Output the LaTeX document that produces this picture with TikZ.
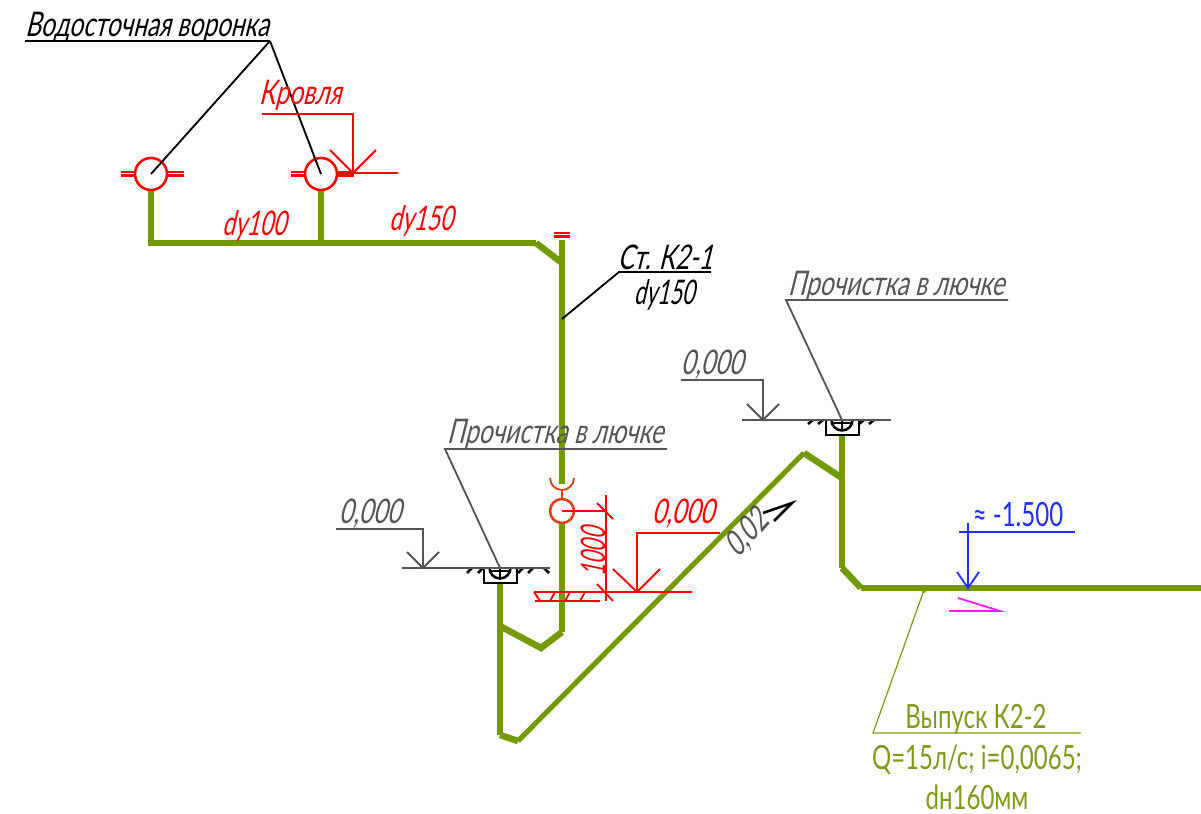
\documentclass[tikz,border=0pt]{standalone}
\usepackage{fontspec}
\setmainfont{Liberation Sans}
\newfontfamily\gostslant[FakeSlant=0.25,FakeStretch=0.72]{Lato}
\newfontfamily\gostplain[FakeStretch=0.72]{Lato}
\usepackage{tikz}
\definecolor{pipegreen}{HTML}{759900}
\definecolor{labelolive}{HTML}{7F9A1A}
\definecolor{leadergray}{HTML}{555555}
\definecolor{hubred}{HTML}{E04010}
\definecolor{levelblue}{HTML}{2030FF}
\definecolor{slopepink}{HTML}{FF20F0}
\tikzset{
  pipe/.style={draw=pipegreen,line width=2.9pt,line join=miter},
  pipekink/.style={draw=pipegreen,line width=3.7pt,line join=miter},
  thin line/.style={line width=1.05pt},
  heavy line/.style={line width=1.45pt},
  label/.style={font=\gostslant\fontsize{19.3}{21}\selectfont,inner sep=0pt,anchor=center},
  plainlabel/.style={font=\gostplain\fontsize{19}{21}\selectfont,inner sep=0pt,anchor=center}
}

\begin{document}
\begin{tikzpicture}[x=0.02cm,y=-0.02cm]
\useasboundingbox (0,0) rectangle (1201,814);

% Define pipe vertices
\coordinate (f1) at (151,174);
\coordinate (f2) at (321,174);
\coordinate (j1) at (151,243);
\coordinate (j2) at (321,243);
\coordinate (k1) at (536,243);
\coordinate (k2) at (562,263);
\coordinate (stack) at (562,319);
\coordinate (c1) at (500,568);
\coordinate (c2) at (842,420);
\coordinate (low) at (500,735);
\coordinate (up) at (804,453);
\coordinate (out) at (842,568);
\coordinate (outb) at (861,588);
\coordinate (outend) at (1201,588);

% Draw pipes
\draw[pipe] (151,190) -- (j1) -- (k1);
\draw[pipekink] (k1) -- (k2);
\draw[pipe] (321,190) -- (j2);
\draw[pipe] (562,240) -- (562,484);
\draw[pipe] (562,522) -- (562,632);
\draw[pipekink] (562,632) -- (541,648) -- (500,626);
\draw[pipe] (500,583) -- (low);
\draw[pipekink] (low) -- (518,741);
\draw[pipe] (518,741) -- (up);
\draw[pipekink] (up) -- (842,478);
\draw[pipe] (842,435) -- (out);
\draw[pipekink] (out) -- (outb);
\draw[pipe] (outb) -- (outend);

% Funnels
\foreach \f in {f1,f2} {
  \draw[red,heavy line] (\f) circle (16);
}
\foreach \yy in {172,175.5} {
  \draw[red,heavy line] (121,\yy) -- (136,\yy);
  \draw[red,heavy line] (167,\yy) -- (184,\yy);
  \draw[red,heavy line] (291,\yy) -- (306,\yy);
  \draw[red,heavy line] (337,\yy) -- (354,\yy);
  \draw[red,heavy line] (554,\yy+61) -- (570,\yy+61);
}

% Funnel label
\node[label] (funnel) at (147,27) {Водосточная воронка};
\draw[thin line] (25,41) -- (270,41) coordinate (fl);
\draw[thin line] (fl) -- (f1);
\draw[thin line] (fl) -- (f2);

% Roof level
\node[label,red] (roof) at (300,95) {Кровля};
\draw[red,thin line] (262,114) -- (353,114) -- (353,173) coordinate (rf);
\draw[red,thin line] (330,150) -- (rf) -- (376,150);
\draw[red,thin line] (337,173) -- (398,173);
\node[label,red,xscale=0.93] (d100) at (254,226) {dy100};
\node[label,red,xscale=0.93] (d150) at (421,221) {dy150};

% Stack label
\node[label] (st) at (665,257) {Ст. К2-1};
\node[label,xscale=0.88] (stdn) at (664,295) {dy150};
\draw[thin line] (711,272) -- (619,272) -- (stack);

% Cleanouts
\foreach \c in {c1,c2} {
  \draw[heavy line] ([xshift=-0.32cm]\c) -- ++(0,15) -- ++(33,0) -- ++(0,-15);
  \draw[heavy line] ([xshift=-0.21cm]\c) arc (180:0:10.5);
  \draw[thin line] ([shift={(-0.2cm,-0.06cm)}]\c) -- ++(20,0);
  \draw[thin line] (\c) -- ++(0,10);
}
\foreach \a/\b in {808/424,818/424,859/424,869/424} {
  \draw[heavy line] (\a,\b) -- ++(5,-4);
}
\foreach \a/\b in {467/573,478/573,518/573,528/573} {
  \draw[heavy line] (\a,\b) -- ++(5,-5);
}
\draw[heavy line] (544,568) -- (549,573);

% Upper cleanout label
\begin{scope}[leadergray]
\node[label] (cl1) at (896,286) {Прочистка в лючке};
\draw[thin line] (1008,300) -- (786,300) -- (c2);
\node[label] (lv1) at (712,365) {0,000};
\draw[thin line] (681,380) -- (763,380) -- (763,420) coordinate (a1);
\draw[thin line] (747,404) -- (a1) -- (779,404);
\draw[thin line] (742,420) -- (891,420);

% Lower cleanout label
\node[label] (cl2) at (555,434) {Прочистка в лючке};
\draw[thin line] (667,449) -- (445,449) -- (c1);
\node[label] (lv2) at (370,514) {0,000};
\draw[thin line] (336,529) -- (423,529) -- (423,568) coordinate (a2);
\draw[thin line] (407,552) -- (a2) -- (439,552);
\draw[thin line] (402,568) -- (550,568);
\end{scope}

% Hub
\draw[hubred,thin line] (550,478) arc (180:0:12);
\draw[hubred,thin line] (562,491) -- (562,499);
\draw[hubred,heavy line] (562,511) circle (12);

% Red dimension
\draw[red,thin line] (562,511) -- (606,511);
\draw[red,thin line] (606,495) -- (606,601);
\draw[red,thin line] (597,503) -- (613,519);
\draw[red,thin line] (597,584) -- (613,601);
\draw[red,thin line] (534,592) -- (692,592);
\draw[red,thin line] (535,601) -- (600,601);
\foreach \x in {550,565,580} {
  \draw[red,thin line] (\x,601) -- ++(5,-9);
}
\draw[red,thin line] (534,592) -- (540,601);
\node[label,red,rotate=90,xscale=0.85] (dim) at (593,552) {1000};
\draw[red,thin line] (720,533) -- (637,533) -- (637,592) coordinate (a3);
\draw[red,thin line] (613,569) -- (a3) -- (660,569);
\node[label,red] (lv3) at (683,514) {0,000};

% Slope label
\node[label,leadergray,rotate=48] (sl) at (747,534) {0,02};
\draw[heavy line] (763,513) -- (792,503) -- (774,521);

% Outlet level
\begin{scope}[levelblue]
\node[plainlabel] (lv4) at (1018,515) {≈ -1.500};
\draw[thin line] (959,532) -- (1075,532);
\draw[thin line] (968,523) -- (968,588) coordinate (a4);
\draw[thin line] (957,572) -- (a4) -- (979,572);
\end{scope}
\draw[slopepink,thin line] (958,598) -- (1000,611) -- (949,611);

% Outlet label
\begin{scope}[labelolive]
\fill (924,591) circle (2);
\draw[line width=0.7pt] (924,590) -- (873,733) -- (1081,733);
\node[plainlabel] (ou1) at (976,719) {Выпуск К2-2};
\node[plainlabel] (ou2) at (977,760) {Q=15л/с; i=0,0065;};
\node[plainlabel] (ou3) at (977,797) {dн160мм};
\end{scope}

\end{tikzpicture}
\end{document}
